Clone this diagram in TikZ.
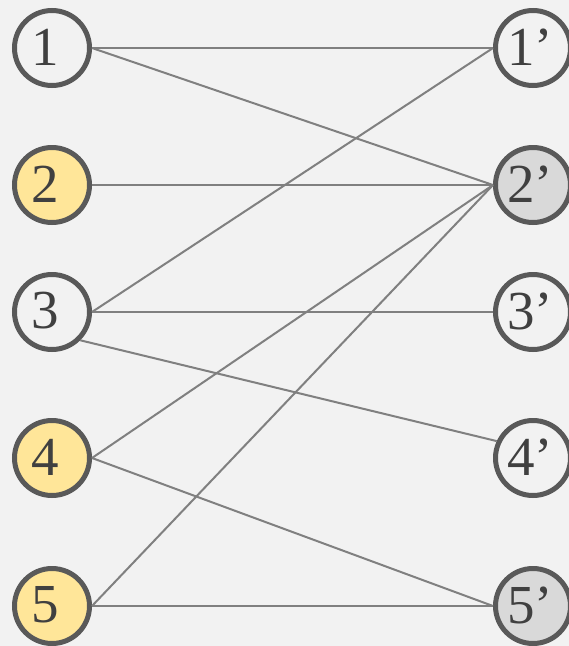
\documentclass[tikz,border=0pt]{standalone}
\usepackage{fontspec}
\newfontfamily\numfont{Liberation Serif}
\definecolor{paper}{HTML}{F2F2F2}
\definecolor{ring}{HTML}{595959}
\definecolor{ink}{HTML}{404040}
\definecolor{edgegray}{HTML}{808080}
\definecolor{gold}{HTML}{FFE699}
\definecolor{shade}{HTML}{D9D9D9}
\begin{document}
\begin{tikzpicture}[x=1pt,y=-1pt,
  vtx/.style={circle, draw=ring, line width=5pt, minimum size=75pt, inner sep=0pt, fill=#1},
  num/.style={font=\fontsize{55}{55}\numfont, text=ink, inner sep=0pt},
  lnum/.style={num, xshift=-7pt, yshift=1pt},
  rnum/.style={num, xshift=-3pt, yshift=1pt},
  link/.style={draw=edgegray, line width=2pt}]
  % canvas
  \fill[paper] (0,0) rectangle (569,646);
  \useasboundingbox (0,0) rectangle (569,646);
  % left column
  \node[vtx=paper, label={[lnum]center:1}] (a1) at (52,48)  {};
  \node[vtx=gold,  label={[lnum]center:2}] (a2) at (52,185) {};
  \node[vtx=paper, label={[lnum]center:3}] (a3) at (52,312) {};
  \node[vtx=gold,  label={[lnum]center:4}] (a4) at (52,458) {};
  \node[vtx=gold,  label={[lnum]center:5}] (a5) at (52,606) {};
  % right column
  \node[vtx=paper, label={[rnum]center:1’}] (b1) at (533,48)  {};
  \node[vtx=shade, label={[rnum]center:2’}] (b2) at (533,185) {};
  \node[vtx=paper, label={[rnum]center:3’}] (b3) at (533,312) {};
  \node[vtx=paper, label={[rnum]center:4’}] (b4) at (533,458) {};
  \node[vtx=shade, label={[rnum]center:5’}] (b5) at (533,606) {};
  % edges
  \draw[link] (a1.east) -- (b1.west);
  \draw[link] (a1.east) -- (b2.west);
  \draw[link] (a2.east) -- (b2.west);
  \draw[link] (a3.east) -- (b1.west);
  \draw[link] (a3.east) -- (b3.west);
  \draw[link] (a3.south east) -- (b4.155);
  \draw[link] (a4.east) -- (b2.west);
  \draw[link] (a4.east) -- (b5.west);
  \draw[link] (a5.east) -- (b2.west);
  \draw[link] (a5.east) -- (b5.west);
\end{tikzpicture}
\end{document}
